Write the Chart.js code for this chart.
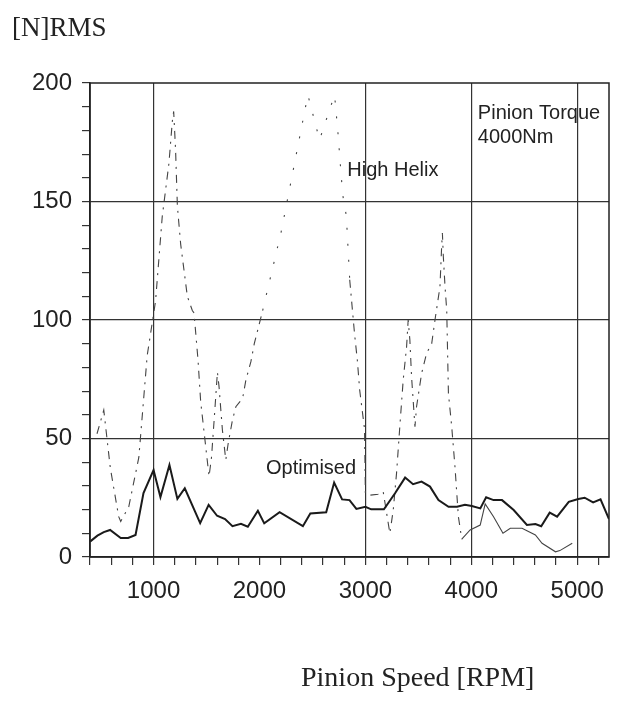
<!DOCTYPE html>
<html>
<head>
<meta charset="utf-8">
<script src="https://cdn.jsdelivr.net/npm/chart.js@4.4.1/dist/chart.umd.min.js"></script>
<style>
  body { margin: 0; background: #fff; }
  #wrap { position: relative; width: 625px; height: 702px; }
  #chart { position: absolute; left: 0; top: 0; }
  .serif { position: absolute; font-family: 'Liberation Serif', serif; color: #222; white-space: nowrap; line-height: 1; }
  #ytitle { left: 12px; top: 14px; font-size: 27px; }
  #xtitle { left: 301px; top: 663px; font-size: 28px; }
</style>
</head>
<body>
<div id="wrap">
  <canvas id="chart" width="625" height="702"></canvas>
  <div id="ytitle" class="serif">[N]RMS</div>
  <div id="xtitle" class="serif">Pinion Speed [RPM]</div>
</div>
<script>
// Data
const optimisedRpm = [400, 470, 530, 590, 690, 760, 830, 905, 1000, 1065, 1150, 1225, 1295, 1440, 1520, 1600, 1675, 1745, 1825, 1890, 1985, 2045, 2190, 2410, 2480, 2630, 2705, 2780, 2850, 2915, 3000, 3055, 3175, 3280, 3375, 3450, 3530, 3610, 3690, 3785, 3865, 3940, 4005, 4085, 4140, 4210, 4290, 4400, 4525, 4605, 4660, 4740, 4810, 4920, 5010, 5070, 5150, 5220, 5300];
const optimisedVals = [6.5, 9, 10.5, 11.4, 8, 8, 9.3, 27, 36.7, 25.3, 38.8, 24.5, 29, 14.3, 22, 17.4, 16, 13, 14, 12.8, 19.5, 14.2, 18.9, 13, 18.4, 18.9, 31.4, 24.3, 24, 20.3, 21.2, 20.1, 20.1, 26.9, 33.5, 30.7, 31.8, 29.7, 24, 21.2, 21.2, 22, 21.5, 20.5, 25.2, 24, 24, 19.8, 13.5, 13.9, 13, 18.7, 17, 23.3, 24.5, 25, 23, 24.3, 16];

const helixRpm = [466, 530, 592, 671, 690, 766, 861, 940, 1019, 1082, 1145, 1177, 1190, 1208, 1225, 1256, 1319, 1366, 1382, 1420, 1445, 1524, 1547, 1572, 1603, 1618, 1650, 1682, 1705, 1745, 1777, 1841, 1872, 1919, 1951, 2030, 2204, 2457, 2567, 2709, 2741, 2773, 2789, 2820, 2852, 2898, 2924, 2946, 2978, 2992, 3000, 3025, 3120, 3168, 3231, 3263, 3294, 3325, 3357, 3389, 3404, 3420, 3436, 3468, 3483, 3531, 3578, 3626, 3657, 3704, 3720, 3727, 3736, 3752, 3768, 3784, 3815, 3846, 3878, 3910, 3989, 4084, 4131, 4210, 4299, 4368, 4479, 4605, 4668, 4795, 4836, 4953];
const helixVals = [52, 62, 37.5, 17, 15, 21.2, 42, 85, 108, 143.6, 166, 183.7, 188, 171.7, 148, 132, 110, 104, 103, 83, 65.5, 34, 42, 57.8, 78, 72, 53.6, 41, 48, 57.8, 63.4, 67, 74.7, 82.4, 90, 104, 137, 195, 176, 195, 179, 160, 152, 144, 117, 94, 83, 70.5, 59, 54, 27, 26, 26.5, 27.6, 10, 19.8, 35.3, 55, 74.7, 88.7, 100, 91.5, 76, 55, 63.4, 77.5, 86, 90, 100, 114, 131, 136.7, 126.7, 114, 104, 69, 55, 38, 17, 7.5, 11.4, 13.5, 22.4, 17, 10, 12.1, 12.1, 9.3, 5.8, 2.2, 2.7, 5.8];

const xMajorLabels = [1000, 2000, 3000, 4000, 5000];
const xGridLines = [1000, 3000, 4000, 5000];
const yMajorLabels = [0, 50, 100, 150, 200];

// text notes placed in data units
const notes = [
    { text: 'Pinion Torque', x: 4062, y: 187 },
    { text: '4000Nm', x: 4062, y: 177 },
    { text: 'High Helix', x: 2829, y: 163 },
    { text: 'Optimised', x: 2062, y: 37.5 }
];

function toPoints(xs, ys) {
    return xs.map((x, i) => ({ x: x, y: ys[i] }));
}

// the scan barely shows the high hump, so draw it sparse
function helixDash(ctx) {
    const x0 = ctx.p0.parsed.x;
    if (x0 >= 3900) return [];
    if (x0 >= 2030 && x0 < 2852) return [2, 14];
    return [8, 6, 2, 6];
}

const frameAndNotes = {
    id: 'frameAndNotes',
    afterDatasetsDraw(chart) {
        const { ctx, chartArea, scales } = chart;
        ctx.save();
        ctx.strokeStyle = '#222';
        ctx.lineWidth = 1.5;
        ctx.strokeRect(chartArea.left, chartArea.top, chartArea.right - chartArea.left, chartArea.bottom - chartArea.top);
        ctx.fillStyle = '#222';
        ctx.font = '20px "Liberation Sans", Arial, sans-serif';
        ctx.textBaseline = 'middle';
        ctx.textAlign = 'left';
        notes.forEach(n => {
            ctx.fillText(n.text, scales.x.getPixelForValue(n.x), scales.y.getPixelForValue(n.y));
        });
        ctx.restore();
    }
};

new Chart(document.getElementById('chart'), {
    type: 'line',
    data: {
        datasets: [{
            label: 'Optimised',
            data: toPoints(optimisedRpm, optimisedVals),
            borderColor: '#1a1a1a',
            borderWidth: 2,
            pointRadius: 0,
            tension: 0,
            fill: false
        }, {
            label: 'High Helix',
            data: toPoints(helixRpm, helixVals),
            borderColor: '#444',
            borderWidth: 1.1,
            pointRadius: 0,
            tension: 0,
            fill: false,
            segment: { borderDash: helixDash }
        }]
    },
    options: {
        responsive: false,
        devicePixelRatio: 1,
        animation: false,
        layout: { padding: { left: 10, top: 83, right: 16, bottom: 0 } },
        plugins: {
            legend: { display: false },
            tooltip: { enabled: false }
        },
        scales: {
            x: {
                type: 'linear',
                min: 400,
                max: 5300,
                afterFit: s => { s.height = 145; },
                border: { color: '#222', width: 1.5 },
                grid: {
                    color: c => xGridLines.includes(c.tick.value) ? '#333' : 'transparent',
                    tickColor: '#333',
                    tickLength: 8,
                    lineWidth: 1.2
                },
                ticks: {
                    stepSize: 200,
                    includeBounds: false,
                    autoSkip: false,
                    maxRotation: 0,
                    padding: 12,
                    color: '#222',
                    font: { family: '"Liberation Sans", Arial, sans-serif', size: 24 },
                    callback: v => xMajorLabels.includes(v) ? String(v) : ''
                }
            },
            y: {
                min: 0,
                max: 200,
                afterFit: s => { s.width = 80; },
                border: { color: '#222', width: 1.5 },
                grid: {
                    color: c => (c.tick.value % 50 === 0 && c.tick.value > 0 && c.tick.value < 200) ? '#333' : 'transparent',
                    tickColor: '#333',
                    tickLength: 8,
                    lineWidth: 1.2
                },
                ticks: {
                    stepSize: 10,
                    autoSkip: false,
                    padding: 10,
                    color: '#222',
                    font: { family: '"Liberation Sans", Arial, sans-serif', size: 24 },
                    callback: v => yMajorLabels.includes(v) ? String(v) : ''
                }
            }
        }
    },
    plugins: [frameAndNotes]
});
</script>
</body>
</html>
